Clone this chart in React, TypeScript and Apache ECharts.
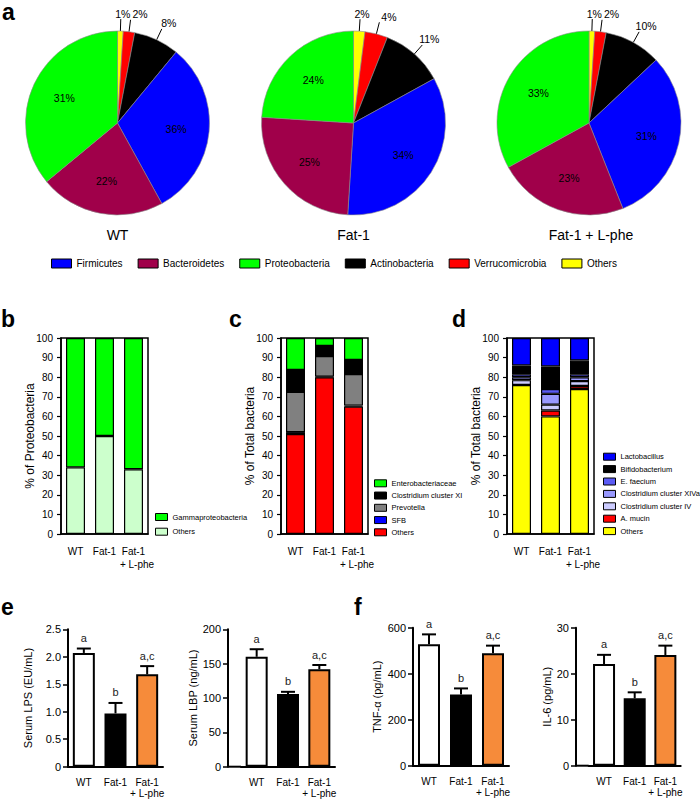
import React, { useEffect, useRef } from 'react';
import * as echarts from 'echarts';

const FONT = "'Liberation Sans',Arial,Helvetica,sans-serif";
const BOLD_FONT = "'Liberation Sans',Arial,sans-serif";

// ---------- panel a : phyla pies ----------
const pieGroups = ['WT', 'Fat-1', 'Fat-1 + L-phe'];
const phylaLegend = ['Firmicutes', 'Bacteroidetes', 'Proteobacteria', 'Actinobacteria', 'Verrucomicrobia', 'Others'];
const phylaClockwise = ['Others', 'Verrucomicrobia', 'Actinobacteria', 'Firmicutes', 'Bacteroidetes', 'Proteobacteria'];
// slice shares as drawn
const phylaWT = [1, 2, 8, 31, 22, 36];
const phylaFat1 = [2, 4, 11, 34, 25, 24];
const phylaFat1Lphe = [1, 2, 10, 31, 23, 33];
// percentages as printed on the slices
const phylaWTLabels = [1, 2, 8, 36, 22, 31];
const phylaFat1Labels = [2, 4, 11, 34, 25, 24];
const phylaFat1LpheLabels = [1, 2, 10, 31, 23, 33];
const phylaColors: Record<string, string> = {
  Firmicutes: '#0000ff',
  Bacteroidetes: '#a0004a',
  Proteobacteria: '#00ff00',
  Actinobacteria: '#000000',
  Verrucomicrobia: '#ff0000',
  Others: '#ffff00',
};

// ---------- panels b-d : stacked composition ----------
const groups = ['WT', 'Fat-1', 'Fat-1\n+ L-phe'];

const protLegend = ['Gammaproteobacteria', 'Others'];
const protGamma = [66, 50, 67];
const protOthers = [34, 50, 33];

const totLegendC = ['Enterobacteriaceae', 'Clostridium cluster XI', 'Prevotella', 'SFB', 'Others'];
const cEntero = [16.3, 4.1, 11.2];
const cClostXI = [11.2, 5.1, 7.2];
const cPrevotella = [20.5, 10.5, 16.1];
const cSFB = [1, 0.3, 0.5];
const cOthers = [51, 80, 65];

const totLegendD = ['Lactobacillus', 'Bifidobacterium', 'E. faecium', 'Clostridium cluster XIVa', 'Clostridium cluster IV', 'A. mucin', 'Others'];
const dLacto = [14, 14.5, 11.5];
const dBifido = [4.5, 11.5, 7];
const dEfaecium = [1.5, 2.5, 1.5];
const dClostXIVa = [1.5, 5.5, 2];
const dClostIV = [2.5, 3, 2.5];
const dAmucin = [0, 3, 1.5];
const dOthers = [76, 60, 74];

// ---------- panels e-f : serum markers ----------
const letters = ['a', 'b', 'a,c'];
const lps = [2.07, 0.97, 1.68];
const lpsErr = [0.08, 0.19, 0.15];
const lbp = [160, 105.8, 141.8];
const lbpErr = [11, 3.2, 6.2];
const tnf = [528, 310, 489];
const tnfErr = [43, 26, 33];
const il6 = [22.1, 14.65, 24.07];
const il6Err = [2.0, 1.3, 2.03];
const groupFill = ['#ffffff', '#000000', '#f68b3a'];

const pieCenters = [[117.5, 123], [353.5, 123], [589, 123]];

function bdFormatter(v: string) {
  const parts = v.split('\n');
  return parts.length > 1 ? parts[0] + '\n{s|' + parts[1] + '}' : v;
}

function buildOption() {
  const pieData = [phylaWT, phylaFat1, phylaFat1Lphe];
  const pieLabels = [phylaWTLabels, phylaFat1Labels, phylaFat1LpheLabels];
  const pies = pieData.map((vals, k) => ({
    type: 'pie',
    name: pieGroups[k],
    center: pieCenters[k],
    radius: 92,
    startAngle: 90,
    clockwise: true,
    avoidLabelOverlap: false,
    itemStyle: { borderColor: '#8a8a8a', borderWidth: 0.6 },
    label: {
      formatter: (p: any) => pieLabels[k][p.dataIndex] + '%',
      fontSize: 10.5,
      fontFamily: FONT,
      color: '#000',
    },
    labelLine: { show: true, length: 12, length2: 0, lineStyle: { color: '#000', width: 1 } },
    labelLayout: (p: any) => {
      if (p.dataIndex === 0) return { verticalAlign: 'bottom', align: 'center' };
      if (p.dataIndex === 1) return { verticalAlign: 'bottom', align: 'left' };
      if (p.dataIndex === 2) return { verticalAlign: 'bottom', align: 'center', dx: 5 };
      const c = pieCenters[k];
      const lx = p.labelRect.x + p.labelRect.width / 2;
      const ly = p.labelRect.y + p.labelRect.height / 2;
      return { dx: (lx - c[0]) * 0.2, dy: (ly - c[1]) * 0.2 };
    },
    emphasis: { disabled: true },
    data: phylaClockwise.map((n, i) => ({
      name: n,
      value: vals[i],
      itemStyle: { color: phylaColors[n] },
      label: i < 3 ? { position: 'outside', distanceToLabelLine: 2 } : { position: 'inside' },
      labelLine: { show: i < 3 },
    })),
  }));

  const stackX = (gi: number) => ({
    type: 'category',
    gridIndex: gi,
    data: groups,
    axisLine: { lineStyle: { color: '#000', width: 1.5 } },
    axisTick: { alignWithLabel: true, length: 4, lineStyle: { color: '#000', width: 1.2 } },
    axisLabel: {
      interval: 0,
      color: '#000',
      fontSize: 10,
      fontFamily: FONT,
      margin: 11,
      lineHeight: 13,
      formatter: bdFormatter,
      rich: { s: { padding: [0, 0, 0, 7], fontSize: 10, fontFamily: FONT, color: '#000', lineHeight: 13 } },
    },
  });
  const stackY = (gi: number, name: string) => ({
    type: 'value',
    gridIndex: gi,
    min: 0,
    max: 100,
    interval: 10,
    name,
    nameLocation: 'middle',
    nameGap: 25,
    nameMoveOverlap: false,
    nameTextStyle: { fontSize: 12, fontFamily: FONT, color: '#000' },
    axisLine: { show: true, lineStyle: { color: '#000', width: 1.5 } },
    axisTick: { show: true, length: 4, lineStyle: { color: '#000', width: 1.2 } },
    axisLabel: { color: '#000', fontSize: 10, fontFamily: FONT, margin: 8 },
    splitLine: { show: false },
  });

  const barX = (gi: number) => ({
    type: 'category',
    gridIndex: gi,
    data: groups,
    axisLine: { lineStyle: { color: '#000', width: 2 } },
    axisTick: { alignWithLabel: true, length: 4, lineStyle: { color: '#000', width: 1.5 } },
    axisLabel: { interval: 0, color: '#000', fontSize: 10, fontFamily: FONT, margin: 10, lineHeight: 11.5 },
  });
  const barY = (gi: number, name: string, max: number, interval: number, gap: number, offset: number, move: boolean, fmt?: (v: number) => string) => ({
    type: 'value',
    gridIndex: gi,
    min: 0,
    max,
    interval,
    offset,
    name,
    nameLocation: 'middle',
    nameGap: gap,
    nameMoveOverlap: move,
    nameTextStyle: { fontSize: 11, fontFamily: FONT, color: '#000' },
    axisLine: { show: true, lineStyle: { color: '#000', width: 2 } },
    axisTick: { show: true, length: 5, lineStyle: { color: '#000', width: 1.5 } },
    axisLabel: { color: '#000', fontSize: 11, fontFamily: FONT, margin: 7, formatter: fmt },
    splitLine: { show: false },
  });

  const stackBar = (name: string, data: number[], color: string, gi: number, stack: string) => ({
    type: 'bar',
    name,
    stack,
    xAxisIndex: gi,
    yAxisIndex: gi,
    data,
    barWidth: 19,
    itemStyle: { color, borderColor: '#000', borderWidth: 1.2 },
    emphasis: { disabled: true },
  });

  const meanBar = (name: string, data: number[], gi: number) => ({
    type: 'bar',
    name,
    xAxisIndex: gi,
    yAxisIndex: gi,
    barWidth: 22,
    data: data.map((v, i) => ({ value: v, itemStyle: { color: groupFill[i] } })),
    itemStyle: { borderColor: '#000', borderWidth: 2 },
    emphasis: { disabled: true },
  });
  const errBar = (name: string, data: number[], err: number[], gi: number) => ({
    type: 'custom',
    name,
    xAxisIndex: gi,
    yAxisIndex: gi,
    z: 10,
    encode: { x: 0, y: 1 },
    data: data.map((v, i) => [i, v, err[i]]),
    renderItem: (params: any, api: any) => {
      const i = api.value(0);
      const v = api.value(1);
      const e = api.value(2);
      const base = api.coord([i, v]);
      const top = api.coord([i, v + e]);
      return {
        type: 'group',
        children: [
          { type: 'line', shape: { x1: top[0], y1: base[1], x2: top[0], y2: top[1] }, style: { stroke: '#000', lineWidth: 2 } },
          { type: 'line', shape: { x1: top[0] - 7, y1: top[1], x2: top[0] + 7, y2: top[1] }, style: { stroke: '#000', lineWidth: 2 } },
          {
            type: 'text',
            x: top[0],
            y: top[1] - 5,
            style: { text: letters[params.dataIndex], align: 'center', verticalAlign: 'bottom', fontSize: 11, fontFamily: FONT, fill: '#222' },
          },
        ],
      };
    },
  });

  const legendItems = (names: string[], colors: string[]) =>
    names.map((n, i) => ({ name: n, itemStyle: { color: colors[i], borderColor: '#000', borderWidth: 1 } }));

  const smallLegend = (left: number, top: number, gap: number, names: string[], colors: string[]) => ({
    orient: 'vertical',
    left,
    top,
    padding: 0,
    itemGap: gap,
    itemWidth: 12,
    itemHeight: 7,
    icon: 'rect',
    selectedMode: false,
    textStyle: { fontSize: 7.5, fontFamily: FONT, color: '#000', lineHeight: 12 },
    data: legendItems(names, colors),
  });

  const panelLetter = (t: string, x: number, y: number) => ({
    type: 'text',
    x,
    y,
    style: { text: t, fontSize: 23, fontWeight: 'bold', fontFamily: BOLD_FONT, fill: '#000', verticalAlign: 'middle' },
  });
  const pieTitle = (t: string, x: number) => ({
    type: 'text',
    x,
    y: 235,
    style: { text: t, fontSize: 14, fontFamily: FONT, fill: '#000', align: 'center', verticalAlign: 'middle' },
  });

  return {
    animation: false,
    backgroundColor: '#ffffff',
    legend: [
      {
        orient: 'horizontal',
        left: 51,
        top: 257,
        padding: 0,
        itemGap: 15,
        itemWidth: 20,
        itemHeight: 9,
        icon: 'rect',
        selectedMode: false,
        textStyle: { fontSize: 10, fontFamily: FONT, color: '#000', lineHeight: 13 },
        data: legendItems(phylaLegend, phylaLegend.map((n) => phylaColors[n])),
      },
      smallLegend(155, 511, 2.7, protLegend, ['#00ff00', '#ccffcc']),
      smallLegend(374, 477.3, 0.25, totLegendC, ['#00ff00', '#000000', '#808080', '#0000ff', '#ff0000']),
      smallLegend(603, 450.7, 0.4, totLegendD, ['#0000ff', '#000000', '#5b5bf5', '#9999ff', '#ccccff', '#ff0000', '#ffff00']),
    ],
    grid: [
      { left: 61, top: 338, width: 87, height: 196, show: true, borderColor: '#000', borderWidth: 1.5 },
      { left: 281, top: 338, width: 87, height: 196, show: true, borderColor: '#000', borderWidth: 1.5 },
      { left: 507, top: 338, width: 87, height: 196, show: true, borderColor: '#000', borderWidth: 1.5 },
      { left: 68, top: 629.3, width: 95, height: 137.4 },
      { left: 241, top: 629.3, width: 94, height: 137.4 },
      { left: 413, top: 627.7, width: 96, height: 138 },
      { left: 588.7, top: 627.7, width: 92, height: 138 },
    ],
    xAxis: [stackX(0), stackX(1), stackX(2), barX(3), barX(4), barX(5), barX(6)],
    yAxis: [
      stackY(0, '% of Proteobacteria'),
      stackY(1, '% of Total bacteria'),
      stackY(2, '% of Total bacteria'),
      barY(3, 'Serum LPS (EU/mL)', 2.5, 0.5, 34.5, 0, false, (v: number) => (v === 0 ? '0' : v.toFixed(1))),
      barY(4, 'Serum LBP (ng/mL)', 200, 50, 8, 13, true),
      barY(5, 'TNF-α (pg/mL)', 600, 200, 30.5, 0, false),
      barY(6, 'IL-6 (pg/mL)', 30, 10, 8, 12.7, true),
    ],
    series: [
      ...pies,
      stackBar('Others', protOthers, '#ccffcc', 0, 'b'),
      stackBar('Gammaproteobacteria', protGamma, '#00ff00', 0, 'b'),
      stackBar('Others', cOthers, '#ff0000', 1, 'c'),
      stackBar('SFB', cSFB, '#0000ff', 1, 'c'),
      stackBar('Prevotella', cPrevotella, '#808080', 1, 'c'),
      stackBar('Clostridium cluster XI', cClostXI, '#000000', 1, 'c'),
      stackBar('Enterobacteriaceae', cEntero, '#00ff00', 1, 'c'),
      stackBar('Others', dOthers, '#ffff00', 2, 'd'),
      stackBar('A. mucin', dAmucin, '#ff0000', 2, 'd'),
      stackBar('Clostridium cluster IV', dClostIV, '#ccccff', 2, 'd'),
      stackBar('Clostridium cluster XIVa', dClostXIVa, '#9999ff', 2, 'd'),
      stackBar('E. faecium', dEfaecium, '#5b5bf5', 2, 'd'),
      stackBar('Bifidobacterium', dBifido, '#000000', 2, 'd'),
      stackBar('Lactobacillus', dLacto, '#0000ff', 2, 'd'),
      meanBar('Serum LPS', lps, 3),
      errBar('Serum LPS SEM', lps, lpsErr, 3),
      meanBar('Serum LBP', lbp, 4),
      errBar('Serum LBP SEM', lbp, lbpErr, 4),
      meanBar('TNF-α', tnf, 5),
      errBar('TNF-α SEM', tnf, tnfErr, 5),
      meanBar('IL-6', il6, 6),
      errBar('IL-6 SEM', il6, il6Err, 6),
    ],
    graphic: [
      panelLetter('a', 2, 12),
      panelLetter('b', 1, 318.6),
      panelLetter('c', 229, 318.6),
      panelLetter('d', 452, 318.6),
      panelLetter('e', 1, 606.6),
      panelLetter('f', 354, 606.6),
      pieTitle(pieGroups[0], 117.5),
      pieTitle(pieGroups[1], 353.5),
      pieTitle(pieGroups[2], 591),
      { type: 'line', shape: { x1: 228, y1: 766.7, x2: 241, y2: 766.7 }, style: { stroke: '#000', lineWidth: 2 } },
      { type: 'line', shape: { x1: 576, y1: 765.7, x2: 588.7, y2: 765.7 }, style: { stroke: '#000', lineWidth: 2 } },
    ],
  };
}

export default function App() {
  const ref = useRef<HTMLDivElement>(null);
  useEffect(() => {
    if (!ref.current) return;
    const chart = echarts.init(ref.current, undefined, { renderer: 'svg' });
    chart.setOption(buildOption() as any);
    return () => chart.dispose();
  }, []);
  return (
    <div
      ref={ref}
      style={{ position: 'fixed', left: 0, top: 0, width: 700, height: 801, background: '#fff' }}
    />
  );
}
